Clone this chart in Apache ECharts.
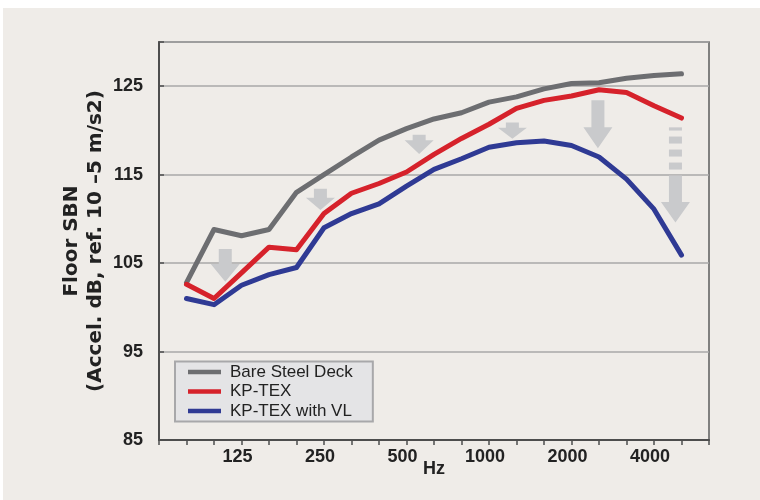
<!DOCTYPE html>
<html>
<head>
<meta charset="utf-8">
<script src="https://cdn.jsdelivr.net/npm/echarts@6/dist/echarts.min.js"></script>
<style>
  html, body { margin: 0; padding: 0; background: #ffffff; }
  #chart { width: 760px; height: 500px; }
</style>
</head>
<body>
<div id="chart"></div>
<script>
// One-third octave band centre frequencies (Hz)
const bands = ['80', '100', '125', '160', '200', '250', '315', '400', '500', '630',
               '800', '1000', '1250', '1600', '2000', '2500', '3150', '4000', '5000'];
// Bands that carry a tick label
const labeledBands = ['125', '250', '500', '1000', '2000', '4000'];
const yTicks = [85, 95, 105, 115, 125];

// Floor structure-borne noise, dB
const bareSteelDeck = [102.8, 108.8, 108.1, 108.8, 113.0, 115.0, 117.0, 118.9, 120.2, 121.3,
                       122.0, 123.2, 123.8, 124.7, 125.3, 125.4, 125.9, 126.2, 126.4];
const kpTex        = [102.6, 101.0, 103.9, 106.8, 106.5, 110.6, 112.9, 114.0, 115.3, 117.3,
                       119.1, 120.7, 122.5, 123.4, 123.9, 124.6, 124.3, 122.8, 121.4];
const kpTexWithVL  = [101.0, 100.3, 102.5, 103.7, 104.5, 109.0, 110.6, 111.7, 113.7, 115.6,
                       116.8, 118.1, 118.6, 118.8, 118.3, 117.0, 114.5, 111.1, 105.9];

const seriesNames = ['Bare Steel Deck', 'KP-TEX', 'KP-TEX with VL'];

// Reduction arrows: [band position, shaft top dB, head base dB, tip dB, dashed lead-in top dB (0 = none)]
const reductionArrows = [
  [1.41, 106.6, 104.9, 102.9, 0],
  [4.87, 113.4, 112.4, 111.0, 0],
  [8.46, 119.5, 118.9, 117.35, 0],
  [11.85, 120.9, 120.3, 119.05, 0],
  [14.96, 123.4, 120.35, 118.0, 0],
  [17.78, 114.9, 111.9, 109.6, 120.35]
];

const toPairs = arr => arr.map((v, i) => [i, v]);

const labelFont = 'Liberation Sans, Arial, sans-serif';
const arrowFill = '#c9cacc';

const chart = echarts.init(document.getElementById('chart'), null, { renderer: 'canvas' });

chart.setOption({
  animation: false,
  backgroundColor: '#ffffff',
  graphic: [{
    type: 'rect',
    left: 3, top: 8,
    shape: { width: 757, height: 492 },
    style: { fill: '#efece8' },
    z: -10,
    silent: true
  }],
  grid: {
    left: 159, right: 51, top: 42, bottom: 60,
    show: true,
    borderColor: '#5c5c5c',
    borderWidth: 1.5,
    backgroundColor: 'transparent'
  },
  legend: {
    orient: 'vertical',
    left: 175, top: 361.5,
    data: seriesNames,
    icon: 'rect',
    itemWidth: 33,
    itemHeight: 4.5,
    itemGap: 0.5,
    padding: [1, 20, 1, 13],
    backgroundColor: '#e4e4e6',
    borderColor: '#a8a8aa',
    borderWidth: 2,
    borderRadius: 0,
    selectedMode: false,
    textStyle: {
      fontFamily: labelFont,
      fontSize: 17,
      color: '#222222',
      lineHeight: 19,
      padding: [0, 0, 0, 4]
    }
  },
  xAxis: {
    type: 'value',
    min: -1, max: 19, interval: 1,
    name: 'Hz',
    nameLocation: 'middle',
    nameGap: 20,
    nameMoveOverlap: false,
    nameTextStyle: { fontFamily: labelFont, fontWeight: 'bold', fontSize: 18, color: '#222222' },
    axisLine: { show: true, onZero: false, lineStyle: { color: '#4d4d4d', width: 2 } },
    axisTick: { show: true, inside: false, length: 5, lineStyle: { color: '#4d4d4d', width: 1.5 } },
    splitLine: { show: false },
    axisLabel: {
      margin: 8,
      fontFamily: labelFont,
      fontWeight: 'bold',
      fontSize: 18,
      color: '#222222',
      padding: [0, 8, 0, 0],
      showMinLabel: true,
      showMaxLabel: true,
      formatter: v => {
        const b = bands[v];
        return b && labeledBands.indexOf(b) >= 0 ? b : '';
      }
    }
  },
  yAxis: {
    type: 'value',
    min: 85, max: 130, interval: 10,
    name: 'Floor SBN\n(Accel. dB, ref. 10 \u20135 m/s2)',
    nameLocation: 'middle',
    nameRotate: 90,
    nameGap: 51,
    nameMoveOverlap: false,
    nameTextStyle: {
      fontFamily: 'DejaVu Sans, sans-serif',
      fontWeight: 'bold',
      fontSize: 20,
      lineHeight: 24,
      color: '#222222',
      align: 'center'
    },
    axisLine: { show: true, onZero: false, lineStyle: { color: '#4d4d4d', width: 2 } },
    axisTick: { show: true, inside: true, length: 5, lineStyle: { color: '#4d4d4d', width: 1.5 } },
    splitLine: { show: true, lineStyle: { color: '#a9a9a9', width: 1.5 } },
    axisLabel: {
      margin: 16,
      fontFamily: labelFont,
      fontWeight: 'bold',
      fontSize: 18,
      color: '#222222',
      formatter: v => (yTicks.indexOf(v) >= 0 ? String(v) : '')
    }
  },
  series: [
    {
      type: 'custom',
      silent: true,
      encode: { x: 0, y: 1 },
      data: reductionArrows,
      renderItem: (params, api) => {
        const x = api.value(0);
        const top = api.coord([x, api.value(1)]);
        const head = api.coord([x, api.value(2)]);
        const tip = api.coord([x, api.value(3)]);
        const cx = top[0];
        const sw = 13, hw = 29;
        const children = [{
          type: 'polygon',
          shape: {
            points: [
              [cx - sw / 2, top[1]], [cx + sw / 2, top[1]], [cx + sw / 2, head[1]],
              [cx + hw / 2, head[1]], [cx, tip[1]], [cx - hw / 2, head[1]],
              [cx - sw / 2, head[1]]
            ]
          },
          style: { fill: arrowFill }
        }];
        const dashTopVal = api.value(4);
        if (dashTopVal > 0) {
          const dt = api.coord([x, dashTopVal])[1];
          let y = top[1] - 6;
          while (y > dt) {
            const y0 = Math.max(y - 7, dt);
            children.push({
              type: 'rect',
              shape: { x: cx - sw / 2, y: y0, width: sw, height: y - y0 },
              style: { fill: arrowFill }
            });
            y -= 13;
          }
        }
        return { type: 'group', children };
      }
    },
    {
      name: seriesNames[0],
      type: 'line',
      data: toPairs(bareSteelDeck),
      color: '#6d6e71',
      symbol: 'none',
      lineStyle: { width: 5, cap: 'round', join: 'round' }
    },
    {
      name: seriesNames[1],
      type: 'line',
      data: toPairs(kpTex),
      color: '#d6222b',
      symbol: 'none',
      lineStyle: { width: 5, cap: 'round', join: 'round' }
    },
    {
      name: seriesNames[2],
      type: 'line',
      data: toPairs(kpTexWithVL),
      color: '#2f3a94',
      symbol: 'none',
      lineStyle: { width: 5, cap: 'round', join: 'round' }
    }
  ]
});
</script>
</body>
</html>
